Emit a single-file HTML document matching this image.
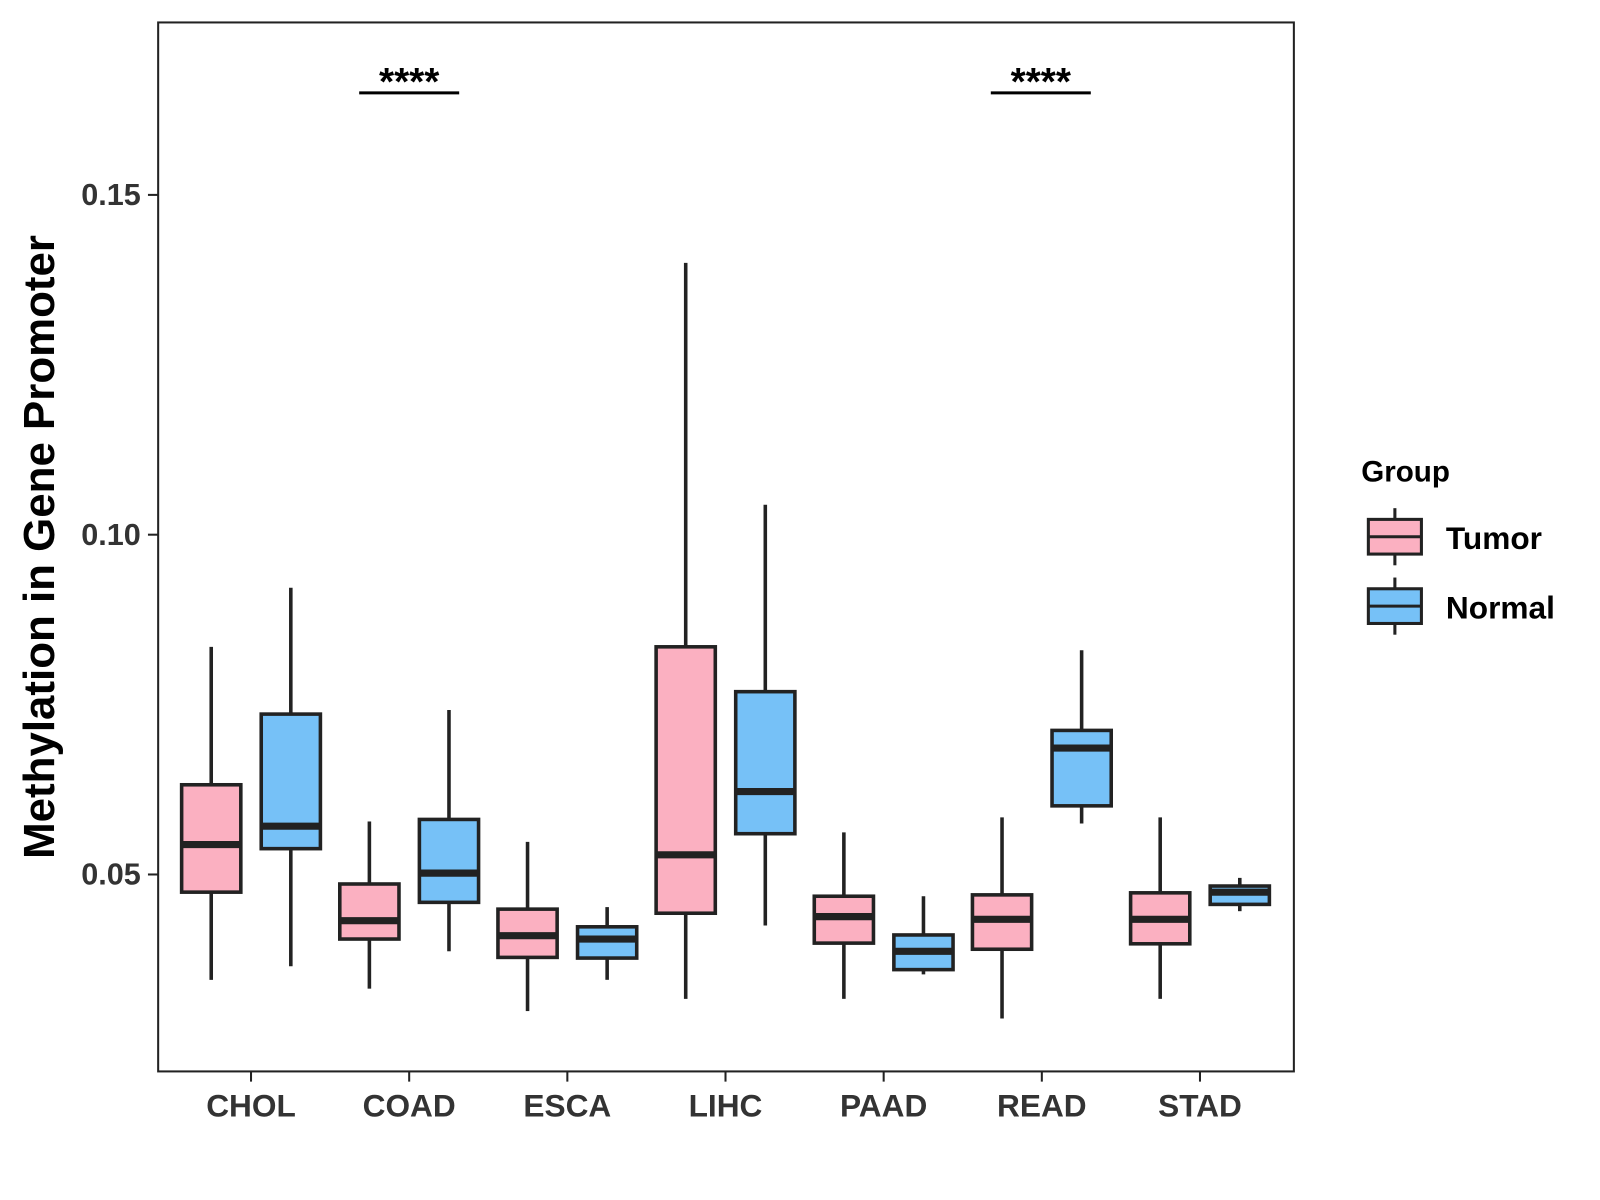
<!DOCTYPE html>
<html><head><meta charset="utf-8"><style>
html,body{margin:0;padding:0;background:#fff;}
svg{display:block;font-family:"Liberation Sans",Arial,sans-serif;}
</style></head><body>
<svg id="chart" width="1600" height="1200" viewBox="0 0 1600 1200">
<rect x="0" y="0" width="1600" height="1200" fill="#fff"/>
<g transform="scale(1.0204)">
<rect x="155" y="22" width="1113" height="1028" fill="none" stroke="#222" stroke-width="2"/>
<g id="boxes"></g>
<g id="axes"></g>
<text transform="translate(53,536) rotate(-90)" text-anchor="middle" font-size="43" font-weight="bold" fill="#000">Methylation in Gene Promoter</text>
<g>
<line x1="352" y1="91" x2="450" y2="91" stroke="#000" stroke-width="3"/>
<text x="401" y="93" text-anchor="middle" font-size="38" font-weight="bold">****</text>
</g>
<g>
<line x1="971" y1="91" x2="1069" y2="91" stroke="#000" stroke-width="3"/>
<text x="1020" y="93" text-anchor="middle" font-size="38" font-weight="bold">****</text>
</g>
<g>
<text x="1334" y="472" font-size="29" font-weight="bold">Group</text>
<g>
<line x1="1367" y1="498" x2="1367" y2="554" stroke="#222" stroke-width="3"/>
<rect x="1341" y="509" width="52" height="34" fill="#fbb0c1" stroke="#222" stroke-width="3"/>
<line x1="1341" y1="526" x2="1393" y2="526" stroke="#222" stroke-width="3"/>
<text x="1417" y="538" font-size="31" font-weight="bold">Tumor</text>
</g>
<g>
<line x1="1367" y1="566" x2="1367" y2="622" stroke="#222" stroke-width="3"/>
<rect x="1341" y="577" width="52" height="34" fill="#76c1f7" stroke="#222" stroke-width="3"/>
<line x1="1341" y1="594" x2="1393" y2="594" stroke="#222" stroke-width="3"/>
<text x="1417" y="606" font-size="31" font-weight="bold">Normal</text>
</g>
</g>
</g>
</svg>
<script>
const categories = ["CHOL","COAD","ESCA","LIHC","PAAD","READ","STAD"];
// [lower whisker, q1, median, q3, upper whisker]
const tumorStats = [
 [0.0345,0.0474,0.0544,0.0632,0.0835],
 [0.0332,0.0405,0.0432,0.0486,0.0578],
 [0.0299,0.0378,0.0410,0.0449,0.0548],
 [0.0317,0.0443,0.0529,0.0835,0.1400],
 [0.0317,0.0399,0.0438,0.0468,0.0562],
 [0.0288,0.0390,0.0434,0.0470,0.0584],
 [0.0317,0.0398,0.0434,0.0473,0.0584]
];
const normalStats = [
 [0.0365,0.0538,0.0571,0.0736,0.0922],
 [0.0387,0.0459,0.0502,0.0581,0.0742],
 [0.0345,0.0377,0.0405,0.0423,0.0452],
 [0.0425,0.0560,0.0622,0.0769,0.1044],
 [0.0353,0.0360,0.0387,0.0411,0.0468],
 [0.0575,0.0601,0.0686,0.0712,0.0830],
 [0.0446,0.0456,0.0474,0.0483,0.0495]
];
const yTicks = [0.05,0.10,0.15];
const yTickLabels = ["0.05","0.10","0.15"];

const NS="http://www.w3.org/2000/svg";
function yScale(v){return 857-(v-0.05)*6660;}
function xScale(i){return 246+i*155;}
function mk(tag,attrs,parent){const e=document.createElementNS(NS,tag);for(const k in attrs)e.setAttribute(k,attrs[k]);parent.appendChild(e);return e;}
const gb=document.getElementById('boxes'), ga=document.getElementById('axes');
function drawBox(s,cx,fill,name){
  const g=mk('g',{},gb);
  
  
  const hw=29;
  mk('line',{x1:cx,x2:cx,y1:yScale(s[4]),y2:yScale(s[3]),stroke:'#222','stroke-width':3.5},g);
  mk('line',{x1:cx,x2:cx,y1:yScale(s[1]),y2:yScale(s[0]),stroke:'#222','stroke-width':3.5},g);
  mk('rect',{x:cx-hw,y:yScale(s[3]),width:hw*2,height:yScale(s[1])-yScale(s[3]),fill:fill,stroke:'#222','stroke-width':3.5},g);
  mk('line',{x1:cx-hw,x2:cx+hw,y1:yScale(s[2]),y2:yScale(s[2]),stroke:'#222','stroke-width':7},g);
}
categories.forEach((c,i)=>{
  drawBox(tumorStats[i],xScale(i)-39,'#fbb0c1','box-tumor-'+c.toLowerCase());
  drawBox(normalStats[i],xScale(i)+39,'#76c1f7','box-normal-'+c.toLowerCase());
  mk('line',{x1:xScale(i),x2:xScale(i),y1:1050,y2:1060,stroke:'#222','stroke-width':2},ga);
  const t=mk('text',{x:xScale(i),y:1094,'text-anchor':'middle','font-size':31,'font-weight':'bold',fill:'#333'},ga);
  t.textContent=c;
  
  
});
yTicks.forEach((v,i)=>{
  mk('line',{x1:145,x2:155,y1:yScale(v),y2:yScale(v),stroke:'#222','stroke-width':2},ga);
  const t=mk('text',{x:138,y:yScale(v)+10,'text-anchor':'end','font-size':30,'font-weight':'bold',fill:'#333'},ga);
  t.textContent=yTickLabels[i];
  
  
});
</script>
</body></html>
